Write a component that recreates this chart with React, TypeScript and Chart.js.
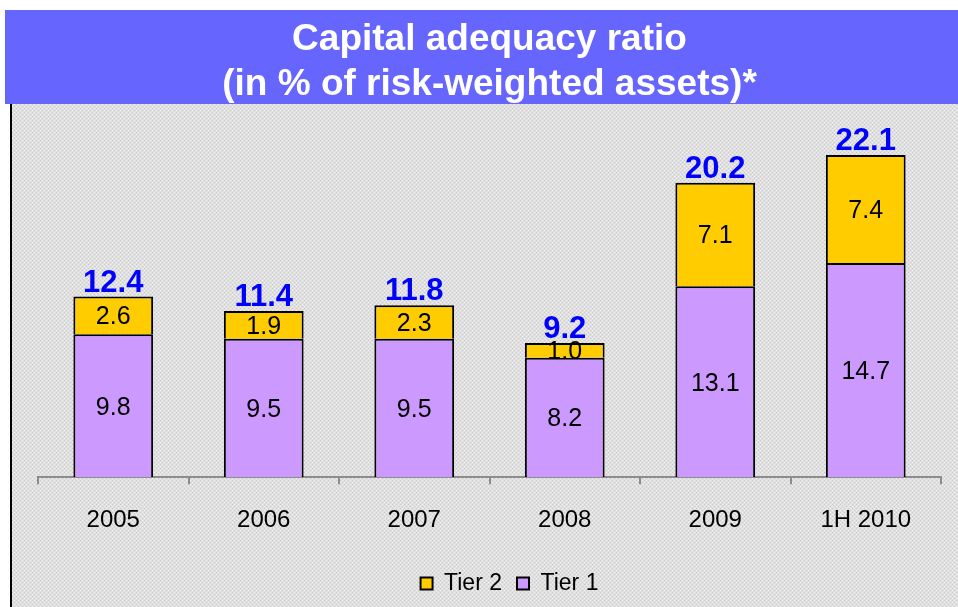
import React, { useEffect, useRef } from 'react';
import { Chart, registerables } from 'chart.js';

Chart.register(...registerables);

const categories = ['2005', '2006', '2007', '2008', '2009', '1H 2010'];
const tier1 = [9.8, 9.5, 9.5, 8.2, 13.1, 14.7];
const tier2 = [2.6, 1.9, 2.3, 1.0, 7.1, 7.4];
const totals = [12.4, 11.4, 11.8, 9.2, 20.2, 22.1];
const titleLines = ['Capital adequacy ratio', '(in % of risk-weighted assets)*'];
const seriesNames = ['Tier 1', 'Tier 2'];

const FONT = '"Liberation Sans", Arial, sans-serif';

const backdrop = {
  id: 'backdrop',
  beforeDraw(chart: any) {
    const ctx = chart.ctx as CanvasRenderingContext2D;
    ctx.save();
    const pc = document.createElement('canvas');
    pc.width = 4;
    pc.height = 4;
    const p = pc.getContext('2d')!;
    p.fillStyle = '#e0e0e0';
    p.fillRect(0, 0, 4, 4);
    p.fillStyle = '#cacaca';
    p.fillRect(0, 0, 1, 1);
    p.fillRect(2, 2, 1, 1);
    p.fillStyle = '#f2f2f2';
    p.fillRect(2, 0, 1, 1);
    p.fillRect(0, 2, 1, 1);
    const pat = ctx.createPattern(pc, 'repeat');
    if (pat) ctx.fillStyle = pat;
    ctx.fillRect(10, 104, 948, 503);
    ctx.fillStyle = '#6666ff';
    ctx.fillRect(5, 10, 953, 94);
    ctx.fillStyle = '#000';
    ctx.fillRect(10, 104, 2, 503);
    ctx.restore();
  },
};

const legendShift = {
  id: 'legendShift',
  afterLayout(chart: any) {
    const lg = chart.legend;
    if (lg) {
      lg.left += 20;
      lg.right += 20;
    }
  },
};

const valueLabels = {
  id: 'valueLabels',
  afterDatasetsDraw(chart: any) {
    const ctx = chart.ctx as CanvasRenderingContext2D;
    ctx.save();
    ctx.textAlign = 'center';
    chart.data.datasets.forEach((ds: any, di: number) => {
      const meta = chart.getDatasetMeta(di);
      meta.data.forEach((bar: any, i: number) => {
        const { x, y, base } = bar.getProps(['x', 'y', 'base'], true);
        ctx.font = `25px ${FONT}`;
        ctx.fillStyle = '#000';
        ctx.textBaseline = 'middle';
        ctx.fillText(Number(ds.data[i]).toFixed(1), x, (y + base) / 2 + 2);
      });
    });
    const topMeta = chart.getDatasetMeta(chart.data.datasets.length - 1);
    topMeta.data.forEach((bar: any, i: number) => {
      const { x, y } = bar.getProps(['x', 'y'], true);
      ctx.font = `bold 31px ${FONT}`;
      ctx.fillStyle = '#0000ff';
      ctx.textBaseline = 'bottom';
      ctx.fillText(totals[i].toFixed(1), x, y + 2);
    });
    ctx.restore();
  },
};

export default function App() {
  const ref = useRef<HTMLCanvasElement>(null);

  useEffect(() => {
    document.body.style.margin = '0';
    const chart = new Chart(ref.current!, {
      type: 'bar',
      data: {
        labels: categories,
        datasets: [
          {
            label: seriesNames[0],
            data: tier1,
            backgroundColor: '#cc99ff',
            borderColor: '#000',
            borderWidth: 2,
            barPercentage: 0.53,
            categoryPercentage: 1,
          },
          {
            label: seriesNames[1],
            data: tier2,
            backgroundColor: '#ffcc00',
            borderColor: '#000',
            borderWidth: 2,
            barPercentage: 0.53,
            categoryPercentage: 1,
          },
        ],
      },
      options: {
        animation: false,
        responsive: false,
        maintainAspectRatio: false,
        layout: { padding: { left: 38, right: 17, top: 0, bottom: 2 } },
        plugins: {
          title: {
            display: true,
            text: titleLines,
            color: '#ffffff',
            font: { family: FONT, size: 37, weight: 'bold', lineHeight: 1.2 },
            padding: { top: 18, bottom: 6 },
          },
          legend: {
            position: 'bottom',
            reverse: true,
            labels: {
              boxWidth: 12,
              boxHeight: 12,
              color: '#000',
              font: { family: FONT, size: 23 },
              padding: 15,
            },
          },
          tooltip: { enabled: false },
        },
        scales: {
          x: {
            stacked: true,
            grid: {
              display: true,
              drawOnChartArea: false,
              drawTicks: true,
              tickLength: 7,
              color: '#8c8c8c',
              lineWidth: 2,
            },
            border: { display: true, color: '#8c8c8c', width: 2 },
            ticks: { color: '#000', font: { family: FONT, size: 24 }, padding: 22 },
          },
          y: { stacked: true, display: false, min: 0, max: 25 },
        },
      },
      plugins: [backdrop, legendShift, valueLabels],
    });
    return () => chart.destroy();
  }, []);

  return (
    <div style={{ position: 'absolute', left: 0, top: 0, width: 958, height: 607 }}>
      <canvas ref={ref} width={958} height={607} style={{ display: 'block' }} />
    </div>
  );
}
